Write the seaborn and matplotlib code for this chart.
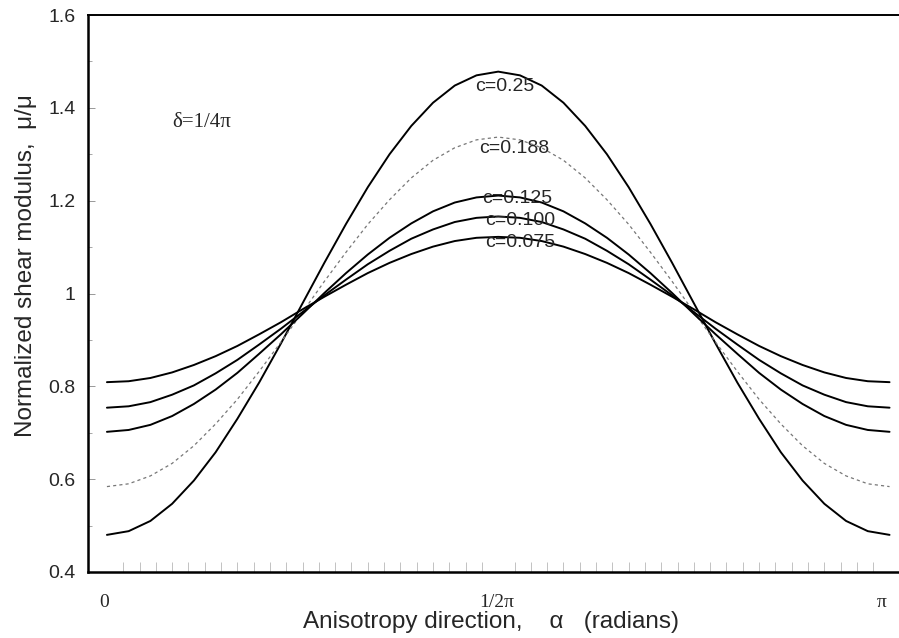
import numpy as np
import pandas as pd
import matplotlib
matplotlib.use("Agg")
import matplotlib.pyplot as plt
import matplotlib.transforms as mtransforms
import seaborn as sns

# anisotropy direction, in degrees (every 5 deg from 0 to 180)
alpha_deg = list(range(0, 181, 5))

mu_c0250 = [0.480, 0.488, 0.510, 0.547, 0.597, 0.658, 0.730, 0.808, 0.892, 0.979,
            1.066, 1.150, 1.229, 1.300, 1.361, 1.411, 1.448, 1.470, 1.478,
            1.470, 1.448, 1.411, 1.361, 1.300, 1.229, 1.150, 1.066,
            0.979, 0.892, 0.808, 0.730, 0.658, 0.597, 0.547, 0.510, 0.488, 0.480]
mu_c0188 = [0.584, 0.590, 0.607, 0.634, 0.672, 0.719, 0.772, 0.832, 0.895, 0.960,
            1.026, 1.089, 1.149, 1.202, 1.249, 1.287, 1.314, 1.331, 1.337,
            1.331, 1.314, 1.287, 1.249, 1.202, 1.149, 1.089, 1.026,
            0.960, 0.895, 0.832, 0.772, 0.719, 0.672, 0.634, 0.607, 0.590, 0.584]
mu_c0125 = [0.702, 0.706, 0.717, 0.736, 0.762, 0.793, 0.829, 0.870, 0.912, 0.956,
            1.001, 1.044, 1.084, 1.120, 1.151, 1.177, 1.196, 1.207, 1.211,
            1.207, 1.196, 1.177, 1.151, 1.120, 1.084, 1.044, 1.001,
            0.956, 0.912, 0.870, 0.829, 0.793, 0.762, 0.736, 0.717, 0.706, 0.702]
mu_c0100 = [0.754, 0.757, 0.766, 0.782, 0.802, 0.828, 0.857, 0.890, 0.924, 0.960,
            0.996, 1.030, 1.063, 1.092, 1.118, 1.138, 1.154, 1.163, 1.166,
            1.163, 1.154, 1.138, 1.118, 1.092, 1.063, 1.030, 0.996,
            0.960, 0.924, 0.890, 0.857, 0.828, 0.802, 0.782, 0.766, 0.757, 0.754]
mu_c0075 = [0.809, 0.811, 0.818, 0.830, 0.846, 0.865, 0.887, 0.912, 0.938, 0.966,
            0.993, 1.019, 1.044, 1.066, 1.085, 1.101, 1.113, 1.120, 1.122,
            1.120, 1.113, 1.101, 1.085, 1.066, 1.044, 1.019, 0.993,
            0.966, 0.938, 0.912, 0.887, 0.865, 0.846, 0.830, 0.818, 0.811, 0.809]

series_labels = ["c=0.25", "c=0.188", "c=0.125", "c=0.100", "c=0.075"]
series_values = [mu_c0250, mu_c0188, mu_c0125, mu_c0100, mu_c0075]

y_ticks = [0.4, 0.6, 0.8, 1.0, 1.2, 1.4, 1.6]
y_tick_labels = ["0.4", "0.6", "0.8", "1", "1.2", "1.4", "1.6"]
x_tick_labels = ["0", "1/2\u03c0", "\u03c0"]

sns.set_theme(style="white")
plt.rcParams["font.family"] = ["Liberation Sans", "DejaVu Sans"]

fig = plt.figure(figsize=(8.99, 6.38), dpi=100)
ax = fig.add_axes([88/899, 66/638, 841/899, 557/638])

alpha_rad = np.deg2rad(alpha_deg)
styles = {
    "c=0.25": dict(color="black", lw=1.4, ls="-"),
    "c=0.188": dict(color="#777777", lw=0.9, ls=(0, (2.5, 2.5))),
    "c=0.125": dict(color="black", lw=1.4, ls="-"),
    "c=0.100": dict(color="black", lw=1.4, ls="-"),
    "c=0.075": dict(color="black", lw=1.4, ls="-"),
}
for lab, vals in zip(series_labels, series_values):
    df = pd.DataFrame({"alpha": alpha_rad, "mu": vals})
    st = styles[lab]
    sns.lineplot(data=df, x="alpha", y="mu", ax=ax, color=st["color"],
                 linewidth=st["lw"], linestyle=st["ls"], sort=False)

ax.set_yticks(y_ticks)
ax.set_yticklabels(y_tick_labels, fontsize=14)
ax.set_yticks(np.arange(0.5, 1.6, 0.2), minor=True)
ax.set_xticks([0, np.pi/2, np.pi])
ax.set_xticklabels(x_tick_labels, fontsize=14, family=["Liberation Serif", "DejaVu Serif"])
ax.set_xticks(np.arange(1, 66) * np.pi / 48, minor=True)

ax.set_xlim(-0.076, 3.30)
ax.set_ylim(0.4, 1.6)

ax.tick_params(which="both", bottom=True, left=True, top=False, right=False)
ax.tick_params(axis="y", which="major", direction="in", length=5, width=0.6,
               color="#888888", pad=9)
ax.tick_params(axis="y", which="minor", direction="in", length=3, width=0.6, color="#999999")
ax.tick_params(axis="x", which="major", direction="in", length=0, pad=16)
ax.tick_params(axis="x", which="minor", direction="in", length=7, width=0.5, color="#aaaaaa")

# shift x tick labels as in the original
offsets = [-3, -2, -8]
for lbl, dx in zip(ax.get_xticklabels(), offsets):
    lbl.set_transform(lbl.get_transform() + mtransforms.ScaledTranslation(dx/100, 0, fig.dpi_scale_trans))

for s in ["left", "bottom", "top"]:
    ax.spines[s].set_visible(True)
    ax.spines[s].set_color("black")
ax.spines["left"].set_linewidth(1.8)
ax.spines["bottom"].set_linewidth(1.8)
ax.spines["top"].set_linewidth(1.4)
ax.spines["right"].set_visible(False)

ax.set_xlabel("Anisotropy direction,    \u03b1   (radians)", fontsize=17.5)
ax.xaxis.set_label_coords(0.479, -0.070)
ax.set_ylabel("Normalized shear modulus,  \u03bc/\u03bc", fontsize=17.5)
ax.yaxis.set_label_coords(-0.061, 0.551)

label_pos = {
    "c=0.25": (1.597, 1.447),
    "c=0.188": (1.633, 1.312),
    "c=0.125": (1.645, 1.204),
    "c=0.100": (1.657, 1.157),
    "c=0.075": (1.657, 1.110),
}
for lab in series_labels:
    x, y = label_pos[lab]
    ax.text(x, y, lab, fontsize=14, ha="center", va="center")

ax.text(0.381, 1.368, "\u03b4=1/4\u03c0", fontsize=15, ha="center", va="center",
        family=["Liberation Serif", "DejaVu Serif"])

fig.savefig("out.png", dpi=100)
